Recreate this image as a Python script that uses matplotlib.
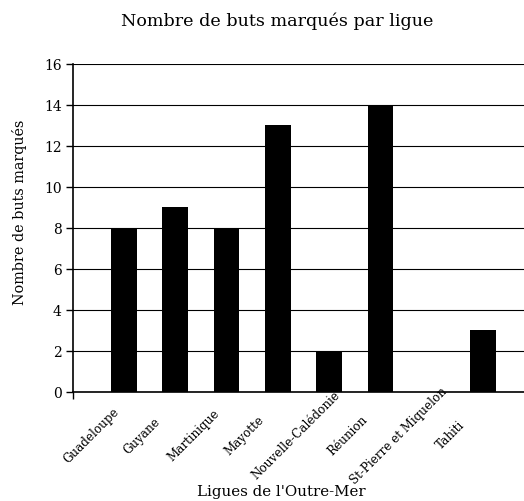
import matplotlib
matplotlib.use("Agg")
import matplotlib.pyplot as plt
import matplotlib.transforms as mtransforms

categories = ["Guadeloupe", "Guyane", "Martinique", "Mayotte", "Nouvelle-Calédonie",
              "Réunion", "St-Pierre et Miquelon", "Tahiti"]
values = [8, 9, 8, 13, 2, 14, 0, 3]
yticks = [0, 2, 4, 6, 8, 10, 12, 14, 16]

plt.rcParams['font.family'] = ['DejaVu Serif']

W, H = 524, 502
fig = plt.figure(figsize=(W/100, H/100), dpi=100)
left, right, top, bottom = 72.7, 534.5, 64.5, 392.7
ax = fig.add_axes([left/W, 1 - bottom/H, (right-left)/W, (bottom-top)/H])

x = list(range(len(categories)))
ax.bar(x, values, width=0.5, color="black", zorder=3)
ax.set_xlim(-1, 8)
ax.set_ylim(0, 16)
ax.set_yticks(yticks)
ax.yaxis.grid(True, color="black", linewidth=0.8)
ax.set_axisbelow(True)
for s in ["top", "right"]:
    ax.spines[s].set_visible(False)
ax.spines["left"].set_linewidth(1.2)
ax.spines["bottom"].set_linewidth(1.2)
ax.tick_params(axis="y", length=5, width=1, labelsize=10, pad=3)
ax.set_xticks(x)
ax.set_xticklabels([])
ax.tick_params(axis="x", length=0)
ax.set_xticks([-1], minor=True)
ax.tick_params(axis="x", which="minor", length=5, width=1)

# rotated category labels, centred at a fixed offset below each bar
lbl_tr = mtransforms.offset_copy(ax.get_xaxis_transform(), fig=fig, x=-33, y=-43, units="dots")
for xi, name in zip(x, categories):
    ax.text(xi, 0, name, transform=lbl_tr, rotation=45, ha="center", va="center",
            rotation_mode="anchor", fontsize=8.6, clip_on=False)

fig.text(20/W, 1 - 212/H, "Nombre de buts marqués", rotation=90, ha="center", va="center", fontsize=10.4)
fig.text(277/W, 1 - 21/H, "Nombre de buts marqués par ligue", ha="center", va="center", fontsize=12.6)
fig.text(281/W, 1 - 492/H, "Ligues de l'Outre-Mer", ha="center", va="center", fontsize=10.8)

fig.savefig("out.png", dpi=100)
